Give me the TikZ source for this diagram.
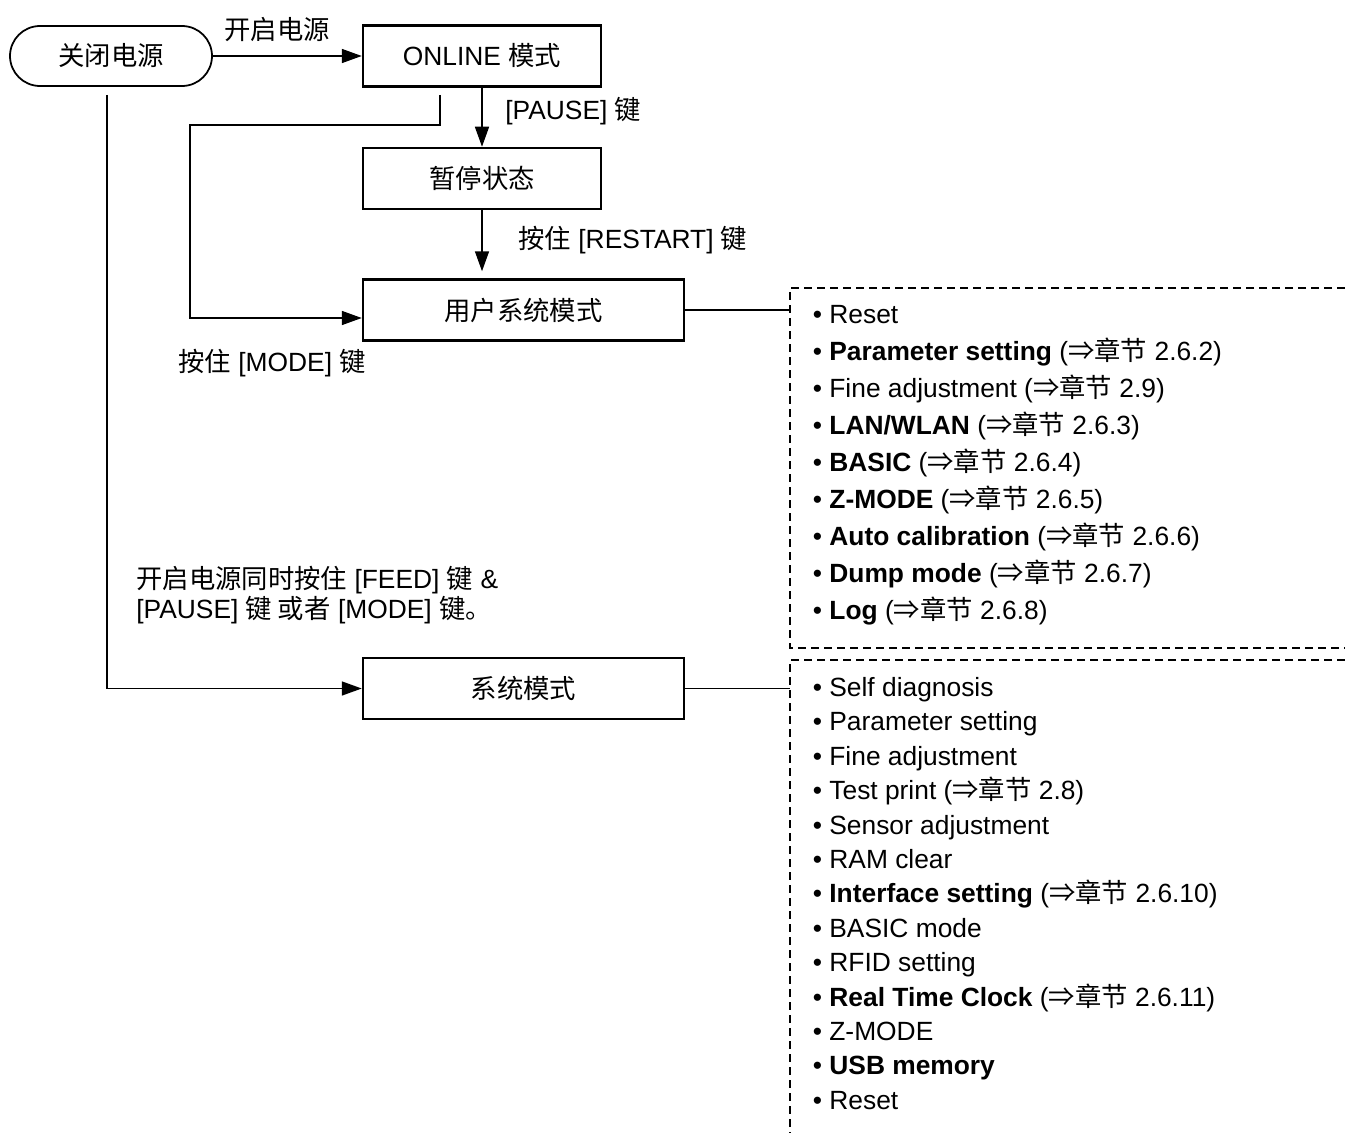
\documentclass[tikz,border=0pt]{standalone}
\usepackage{fontspec}
\setmainfont{Liberation Sans}
\newfontfamily\cjk{Noto Sans CJK SC}
\newcommand\zh[1]{{\cjk #1}}
\usetikzlibrary{arrows.meta,positioning}

\begin{document}
\begin{tikzpicture}[
			font=\fontsize{15}{17}\selectfont,
			box/.style={draw,line width=1.4pt,minimum width=4.76cm,minimum height=1.22cm,align=center},
			wbox/.style={box,minimum width=6.42cm},
			term/.style={draw,line width=1pt,rounded corners=0.6cm,minimum width=4.04cm,minimum height=1.2cm},
			conn/.style={line width=0.9pt,-{Triangle[length=0.4cm,width=0.28cm]}},
			link/.style={line width=0.9pt},
			frame/.style={line width=0.8pt,dash pattern=on 0.16cm off 0.1cm},
			lbl/.style={anchor=west,inner sep=0pt},
			item/.style={anchor=base west,inner sep=0pt}
			]
			\useasboundingbox (0,0) rectangle (26.9,-22.66);
			% main states
			\node[term] (off) at (2.22,-1.12) {\zh{关闭电源}};
			\node[box] (online) at (9.64,-1.12) {ONLINE \zh{模式}};
			\node[box] (pause) [below=1.18cm of online] {\zh{暂停状态}};
			\node[wbox] (user) at (10.47,-6.2) {\zh{用户系统模式}};
			\node[wbox] (sys) at (10.47,-13.77) {\zh{系统模式}};
			% transitions
			\draw[conn] (off) -- (online);
			\node (lon) at (5.54,-0.6) {\zh{开启电源}};
			\draw[conn] (online) -- (pause);
			\node[lbl] (lpause) at (10.1,-2.22) {[PAUSE] \zh{键}};
			\draw[conn,shorten >=0.14cm] (pause) -- (user.north -| pause);
			\node[lbl] (lrestart) at (10.36,-4.8) {\zh{按住} [RESTART] \zh{键}};
			\coordinate (m0) at (8.8,-1.9);
			\coordinate (mbend) at (3.8,-2.5);
			\draw[conn] (m0) |- (mbend) |- ([yshift=-0.16cm]user.west);
			\node[lbl] (lmode) at (3.56,-7.26) {\zh{按住} [MODE] \zh{键}};
			\coordinate (s0) at (2.14,-1.9);
			\draw[conn] (s0) |- (sys.west);
			\node[lbl,align=left,font=\fontsize{15}{17.5}\selectfont] (lfeed) at (2.72,-11.9) {\zh{开启电源同时按住} [FEED] \zh{键} \&\\{}[PAUSE] \zh{键 或者} [MODE] \zh{键。}};
			% menu frames
			\coordinate (ufr) at (15.8,-6.2);
			\coordinate (sfr) at (15.8,-13.77);
			\draw[link] (user) -- (ufr);
			\draw[link] (sys) -- (sfr);
			\draw[frame] (26.9,-5.76) -| (15.8,-12.96) -- (26.9,-12.96);
			\draw[frame] (26.9,-13.2) -| (15.8,-22.66);
			\foreach \t [count=\i] in {Reset,
				{\textbf{Parameter setting} (\zh{⇒章节} 2.6.2)},
				{Fine adjustment (\zh{⇒章节} 2.9)},
				{\textbf{LAN/WLAN} (\zh{⇒章节} 2.6.3)},
				{\textbf{BASIC} (\zh{⇒章节} 2.6.4)},
				{\textbf{Z-MODE} (\zh{⇒章节} 2.6.5)},
				{\textbf{Auto calibration} (\zh{⇒章节} 2.6.6)},
				{\textbf{Dump mode} (\zh{⇒章节} 2.6.7)},
				{\textbf{Log} (\zh{⇒章节} 2.6.8)}}
				\node[item] (u\i) at (16.25,{-6.47-0.74*(\i-1)}) {• \t};
			\foreach \t [count=\i] in {Self diagnosis,Parameter setting,Fine adjustment,
				{Test print (\zh{⇒章节} 2.8)},
				Sensor adjustment,RAM clear,
				{\textbf{Interface setting} (\zh{⇒章节} 2.6.10)},
				BASIC mode,RFID setting,
				{\textbf{Real Time Clock} (\zh{⇒章节} 2.6.11)},
				Z-MODE,{\textbf{USB memory}},Reset}
				\node[item] (s\i) at (16.25,{-13.93-0.688*(\i-1)}) {• \t};
		\end{tikzpicture}
\end{document}
